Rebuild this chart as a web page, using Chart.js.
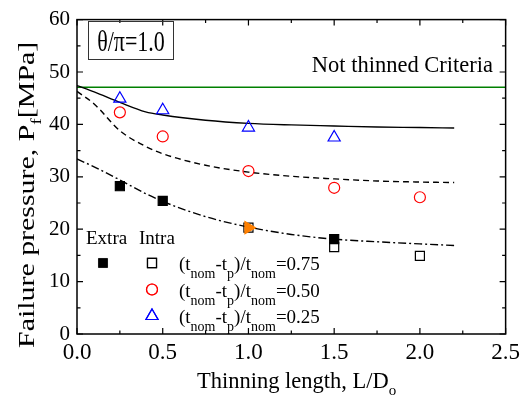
<!DOCTYPE html>
<html>
<head>
<meta charset="utf-8">
<script src="https://cdn.jsdelivr.net/npm/chart.js@4.4.1/dist/chart.umd.min.js"></script>
<style>
	html, body { margin: 0; padding: 0; background: #fff; }
	#wrap { width: 525px; height: 398px; }
</style>
</head>
<body>
<div id="wrap"><canvas id="c"></canvas></div>
<script>
// ===== data =====
const xTickLabels = ['0.0', '0.5', '1.0', '1.5', '2.0', '2.5'];
const yTickLabels = ['0', '10', '20', '30', '40', '50', '60'];
const xMinor = [0.25, 0.75, 1.25, 1.75, 2.25];
const yMinor = [5, 15, 25, 35, 45, 55];

const notThinned = 47.1;

// (tnom-tp)/tnom = 0.25, triangles
const triL = [0.25, 0.5, 1.0, 1.5];
const triP = [44.9, 42.7, 39.4, 37.5];

// 0.50, circles
const circL = [0.25, 0.5, 1.0, 1.5, 2.0];
const circP = [42.3, 37.7, 31.1, 27.9, 26.1];

// 0.75 extra (filled squares)
const extraL = [0.25, 0.5, 1.5];
const extraP = [28.2, 25.4, 18.1];

// 0.75 intra (open squares)
const intraL = [1.0, 1.5, 2.0];
const intraP = [20.3, 16.6, 14.9];

// orange marker at L/D=1.0
const orangeL = [1.0];
const orangeP = [20.3];

// fitted curves
const curveL = [0, 0.1, 0.25, 0.4, 0.5, 0.75, 1.0, 1.25, 1.5, 1.75, 2.0, 2.2];
const solidP = [47.4, 46.2, 44.2, 42.4, 41.8, 40.8, 40.2, 39.9, 39.7, 39.5, 39.4, 39.3];
const dashP = [46.3, 43.9, 38.8, 35.8, 34.4, 32.2, 30.9, 30.1, 29.6, 29.2, 29.0, 28.9];
const dashDotP = [33.4, 31.9, 29.4, 26.8, 25.3, 22.4, 20.4, 19.0, 18.1, 17.6, 17.2, 16.9];

const legendRows = [
	{ value: '0.75', style: 'rect', color: '#000' },
	{ value: '0.50', style: 'circle', color: '#ff0000' },
	{ value: '0.25', style: 'triangle', color: '#0000ff' },
];

const FONT = '"Liberation Serif", "Times New Roman", serif';

const pts = (xs, ys) => xs.map((x, i) => ({ x, y: ys[i] }));

// =====================================
// FRAME, TICKS, ANNOTATIONS, LEGEND
// =====================================

const frame = {
	id: 'frame',
	afterDraw(chart) {
		const { ctx, chartArea: a, scales } = chart;
		const xs = scales.x;
		const ys = scales.y;
		ctx.save();

		// border
		ctx.strokeStyle = '#000';
		ctx.lineWidth = 1.5;
		ctx.strokeRect(a.left, a.top, a.right - a.left, a.bottom - a.top);

		// inward ticks on all sides
		ctx.lineWidth = 1.2;
		const tickX = (v, len) => {
			const px = xs.getPixelForValue(v);
			ctx.beginPath();
			ctx.moveTo(px, a.bottom); ctx.lineTo(px, a.bottom - len);
			ctx.moveTo(px, a.top); ctx.lineTo(px, a.top + len);
			ctx.stroke();
		};
		const tickY = (v, len) => {
			const py = ys.getPixelForValue(v);
			ctx.beginPath();
			ctx.moveTo(a.left, py); ctx.lineTo(a.left + len, py);
			ctx.moveTo(a.right, py); ctx.lineTo(a.right - len, py);
			ctx.stroke();
		};
		xTickLabels.forEach((t) => tickX(parseFloat(t), 6));
		xMinor.forEach((v) => tickX(v, 3.5));
		yTickLabels.forEach((t) => tickY(parseFloat(t), 6));
		yMinor.forEach((v) => tickY(v, 3.5));

		// theta box (text a bit taller than wide, like the source)
		ctx.lineWidth = 1;
		ctx.strokeStyle = '#333';
		ctx.strokeRect(88.5, 21.5, 85, 38);
		ctx.fillStyle = '#000';
		ctx.textAlign = 'center';
		ctx.textBaseline = 'alphabetic';
		ctx.save();
		ctx.translate(131, 51);
		ctx.scale(1, 1.3);
		ctx.font = `22px ${FONT}`;
		ctx.fillText('θ/π=1.0', 0, 0);
		ctx.restore();

		// criteria label
		ctx.textAlign = 'right';
		ctx.font = `22.5px ${FONT}`;
		ctx.fillText('Not thinned Criteria', 493, 72);

		// legend
		ctx.textAlign = 'left';
		ctx.font = `19px ${FONT}`;
		ctx.fillText('Extra', 86, 244);
		ctx.fillText('Intra', 139, 244);

		Chart.helpers.drawPoint(ctx, {
			pointStyle: 'rect', radius: 6.4, borderWidth: 1, rotation: 0,
		}, 103, 263);
		ctx.fillStyle = '#000';
		ctx.fill();

		legendRows.forEach((row, i) => {
			const cy = 263 + i * 26.5;
			ctx.fillStyle = '#fff';
			ctx.strokeStyle = row.color;
			ctx.lineWidth = 1.2;
			const r = row.style === 'rect' ? 6.4 : row.style === 'circle' ? 5.5 : 7;
			Chart.helpers.drawPoint(ctx, { pointStyle: row.style, radius: r, borderWidth: 1.2, rotation: 0 }, 152, cy);
			ctx.stroke();

			// (t_nom-t_p)/t_nom=value
			const base = cy + 7;
			const sub = base + 8;
			let x = 179;
			ctx.fillStyle = '#000';
			const big = (s) => { ctx.font = `19px ${FONT}`; ctx.fillText(s, x, base); x += ctx.measureText(s).width; };
			const small = (s) => { ctx.font = `14px ${FONT}`; ctx.fillText(s, x, sub); x += ctx.measureText(s).width; };
			big('(t'); small('nom'); big('-t'); small('p'); big(')/t'); small('nom'); big('=' + row.value);
		});

		// axis titles
		ctx.fillStyle = '#000';
		ctx.font = `22.5px ${FONT}`;
		let tx = 197;
		const xTitleBase = 388;
		ctx.fillText('Thinning length, L/D', tx, xTitleBase);
		tx += ctx.measureText('Thinning length, L/D').width;
		ctx.font = `15px ${FONT}`;
		ctx.fillText('o', tx, xTitleBase + 7);

		// y title: stretched along its length like the source
		ctx.translate(34, 348);
		ctx.rotate(-Math.PI / 2);
		ctx.scale(1.3, 1);
		ctx.font = `23px ${FONT}`;
		let ty = 0;
		ctx.fillText('Failure pressure, P', ty, 0);
		ty += ctx.measureText('Failure pressure, P').width;
		ctx.font = `15px ${FONT}`;
		ctx.fillText('f', ty, 7);
		ty += ctx.measureText('f').width;
		ctx.font = `23px ${FONT}`;
		ctx.fillText('[MPa]', ty, 0);

		ctx.restore();
	},
};

const lineSet = (label, ys, dash) => ({
	label,
	data: pts(curveL, ys),
	showLine: true,
	borderColor: '#000',
	borderWidth: 1.4,
	borderDash: dash,
	pointRadius: 0,
	tension: 0.35,
	cubicInterpolationMode: 'monotone',
	fill: false,
	order: 2,
});

const markerSet = (label, xs, ys, style, radius, color, filled, extra = {}) => ({
	label,
	data: pts(xs, ys),
	showLine: false,
	pointStyle: style,
	pointRadius: radius,
	pointHoverRadius: radius,
	pointBorderWidth: 1.2,
	pointBorderColor: color,
	pointBackgroundColor: filled ? color : 'rgba(255,255,255,0)',
	order: 1,
	...extra,
});

new Chart(document.getElementById('c'), {
	type: 'scatter',
	data: {
		datasets: [
			{
				label: 'Not thinned',
				data: [{ x: 0, y: notThinned }, { x: 2.5, y: notThinned }],
				showLine: true,
				borderColor: '#008000',
				borderWidth: 1.6,
				pointRadius: 0,
				order: 3,
			},
			lineSet('0.25 fit', solidP, []),
			lineSet('0.50 fit', dashP, [6, 4]),
			lineSet('0.75 fit', dashDotP, [8, 3, 2, 3]),
			markerSet('0.25', triL, triP, 'triangle', 7, '#0000ff', false),
			markerSet('0.50', circL, circP, 'circle', 5.5, '#ff0000', false),
			markerSet('0.75 extra', extraL, extraP, 'rect', 6.4, '#000', true),
			markerSet('0.75 intra', intraL, intraP, 'rect', 6.4, '#000', false),
			markerSet('orange', orangeL, orangeP, 'triangle', 7, '#ff8000', true, { pointRotation: 90, order: 0 }),
		],
	},
	options: {
		responsive: true,
		maintainAspectRatio: false,
		animation: false,
		events: [],
		layout: { padding: { top: 15, right: 14, left: 0, bottom: 0 } },
		plugins: {
			legend: { display: false },
			tooltip: { enabled: false },
		},
		scales: {
			x: {
				type: 'linear',
				min: 0,
				max: 2.5,
				afterFit: (s) => { s.height = 64; },
				afterBuildTicks: (s) => { s.ticks = xTickLabels.map((t) => ({ value: parseFloat(t) })); },
				grid: { display: false, drawTicks: false },
				border: { display: false },
				ticks: {
					padding: 5,
					color: '#000',
					font: { family: FONT, size: 23 },
					callback: (v) => xTickLabels.find((t) => parseFloat(t) === v) ?? '',
				},
			},
			y: {
				type: 'linear',
				min: 0,
				max: 60,
				afterFit: (s) => { s.width = 77; },
				afterBuildTicks: (s) => { s.ticks = yTickLabels.map((t) => ({ value: parseFloat(t) })); },
				grid: { display: false, drawTicks: false },
				border: { display: false },
				ticks: {
					padding: 7,
					color: '#000',
					font: { family: FONT, size: 21 },
					callback: (v) => yTickLabels.find((t) => parseFloat(t) === v) ?? '',
				},
			},
		},
	},
	plugins: [frame],
});
</script>
</body>
</html>
